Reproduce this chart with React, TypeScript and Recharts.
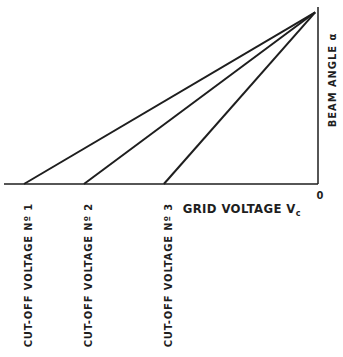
import { Line, LineChart, XAxis, YAxis } from 'recharts';

// grid voltage where each beam angle reaches zero (cut-off), and the common top point
const cutoffVoltages = [-103, -82, -54];
const cutoffLabels = ['CUT-OFF VOLTAGE Nº 1', 'CUT-OFF VOLTAGE Nº 2', 'CUT-OFF VOLTAGE Nº 3'];
const apexVoltage = -1;
const apexAngle = 0.97;
const axisTicks = [...cutoffVoltages, 0];

const ink = '#1e1e1e';
const font = '"DejaVu Sans Condensed", "DejaVu Sans", sans-serif';

const series = cutoffVoltages.map((v) => [
  { v, a: 0 },
  { v: apexVoltage, a: apexAngle }
]);

const Tick = (props: any) => {
  const { x, y, payload } = props;
  if (payload.value === 0) {
    return (
      <text x={x + 2} y={y + 7} textAnchor="middle" fontFamily={font} fontWeight="bold" fontSize={11} fill={ink}>
        0
      </text>
    );
  }
  const idx = cutoffVoltages.indexOf(payload.value);
  const tx = x + 5;
  const ty = y + 11;
  return (
    <text
      x={tx}
      y={ty}
      transform={`rotate(-90 ${tx} ${ty})`}
      textAnchor="end"
      dominantBaseline="central"
      fontFamily={font}
      fontWeight="bold"
      fontSize={11}
      letterSpacing={0.9}
      fill={ink}
    >
      {cutoffLabels[idx]}
    </text>
  );
};

const GridLabel = (props: any) => {
  const { viewBox } = props;
  const x = viewBox.x + viewBox.width - 17;
  const y = viewBox.y + 29;
  return (
    <text x={x} y={y} textAnchor="end" fontFamily={font} fontWeight="bold" fontSize={13} letterSpacing={0.4} fill={ink}>
      GRID VOLTAGE V<tspan fontSize={9} dy={3}>c</tspan>
    </text>
  );
};

const BeamLabel = (props: any) => {
  const { viewBox } = props;
  const x = viewBox.x + 14;
  const y = viewBox.y + 73;
  return (
    <text
      x={x}
      y={y}
      transform={`rotate(-90 ${x} ${y})`}
      textAnchor="middle"
      dominantBaseline="central"
      fontFamily={font}
      fontWeight="bold"
      fontSize={11}
      letterSpacing={1}
      fill={ink}
    >
      BEAM ANGLE α
    </text>
  );
};

export default function App() {
  return (
    <div style={{ position: 'absolute', left: 0, top: 0, background: '#fff' }}>
      <LineChart width={343} height={357} margin={{ top: 7, right: 0, bottom: 0, left: 4 }}>
        <XAxis
          type="number"
          dataKey="v"
          domain={[-110, 0]}
          ticks={axisTicks}
          tick={<Tick />}
          tickLine={false}
          axisLine={{ stroke: ink, strokeWidth: 1.5 }}
          height={173}
          label={<GridLabel />}
        />
        <YAxis
          type="number"
          dataKey="a"
          domain={[0, 1]}
          orientation="right"
          tick={false}
          tickLine={false}
          axisLine={{ stroke: ink, strokeWidth: 1.5 }}
          width={25}
          label={<BeamLabel />}
        />
        {series.map((d, i) => (
          <Line
            key={i}
            data={d}
            dataKey="a"
            stroke={ink}
            strokeWidth={2}
            dot={false}
            activeDot={false}
            isAnimationActive={false}
          />
        ))}
      </LineChart>
    </div>
  );
}
